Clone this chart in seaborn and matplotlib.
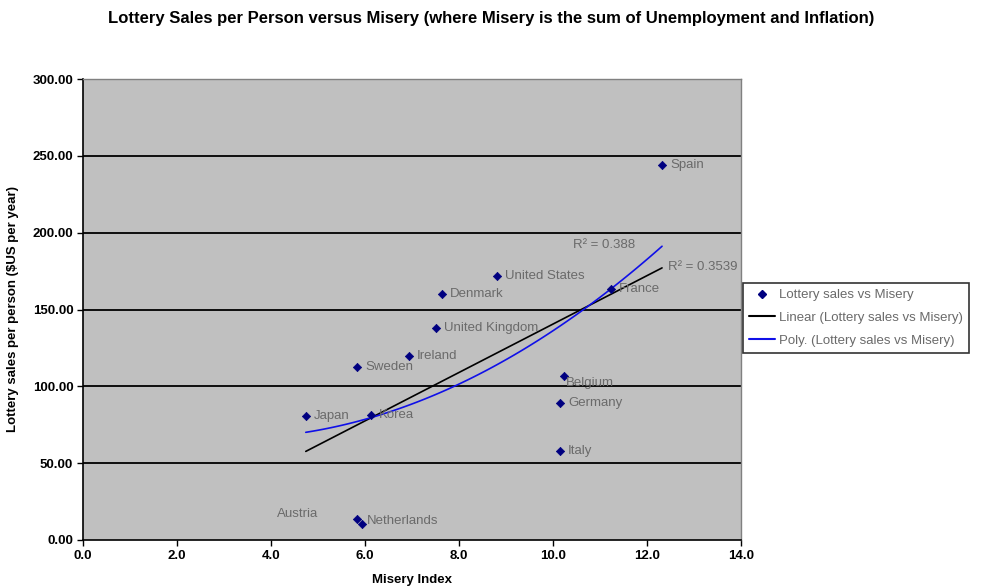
import matplotlib
matplotlib.use("Agg")
import matplotlib.pyplot as plt
import seaborn as sns
import pandas as pd
from matplotlib.lines import Line2D

countries = ["Spain", "France", "United States", "Denmark", "United Kingdom", "Ireland",
             "Sweden", "Belgium", "Germany", "Japan", "Korea", "Italy", "Austria", "Netherlands"]
misery = [12.32, 11.23, 8.81, 7.64, 7.51, 6.94, 5.83, 10.23, 10.15, 4.74, 6.13, 10.15, 5.83, 5.94]
sales = [244.0, 163.3, 171.8, 160.0, 137.9, 119.7, 112.6, 106.7, 89.1, 80.7, 81.3, 57.9, 13.7, 10.4]

title = "Lottery Sales per Person versus Misery (where Misery is the sum of Unemployment and Inflation)"
xlabel = "Misery Index"
ylabel = "Lottery sales per person ($US per year)"
legend_labels = ["Lottery sales vs Misery", "Linear (Lottery sales vs Misery)",
                 "Poly. (Lottery sales vs Misery)"]
r2_poly = "R² = 0.388"
r2_lin = "R² = 0.3539"

df = pd.DataFrame({"country": countries, "misery": misery, "sales": sales})

sns.set_style("white")
plt.rcParams["font.family"] = ["Liberation Sans", "DejaVu Sans"]
plt.rcParams["text.color"] = "black"
plt.rcParams["axes.labelcolor"] = "black"
plt.rcParams["xtick.color"] = "black"
plt.rcParams["ytick.color"] = "black"

W, H = 983, 586
fig = plt.figure(figsize=(W / 100, H / 100), dpi=100)
ax = fig.add_axes([83 / W, 1 - 540 / H, (741 - 83) / W, (540 - 79) / H])
ax.set_facecolor("#C0C0C0")

ax.set_xlim(0, 14)
ax.set_ylim(0, 300)
ax.set_xticks([0, 2, 4, 6, 8, 10, 12, 14])
ax.set_yticks([0, 50, 100, 150, 200, 250, 300])
ax.set_xticklabels([f"{v:.1f}" for v in ax.get_xticks()], fontsize=9.5, fontweight="bold")
ax.set_yticklabels([f"{v:.2f}" for v in ax.get_yticks()], fontsize=9.5, fontweight="bold")
for y in [50, 100, 150, 200, 250]:
    ax.axhline(y, color="black", lw=1.3, zorder=1)

sns.regplot(data=df, x="misery", y="sales", ax=ax, scatter=False, ci=None, order=1,
            truncate=True, line_kws={"color": "black", "lw": 1.2, "zorder": 3})
sns.regplot(data=df, x="misery", y="sales", ax=ax, scatter=False, ci=None, order=2,
            truncate=True, line_kws={"color": "#1010E8", "lw": 1.2, "zorder": 3})
sns.scatterplot(data=df, x="misery", y="sales", ax=ax, marker="D", s=18,
                color="#000080", edgecolor="#000080", linewidth=0.5, zorder=4, legend=False)

label_col = "#6a6a6a"
offsets = {"Belgium": (2, -7, "left"), "Austria": (-39, 5, "right"),
           "Netherlands": (5, 3, "left")}
for c, xv, yv in zip(countries, misery, sales):
    dx, dy, ha = offsets.get(c, (8, 0, "left"))
    ax.annotate(c, (xv, yv), xytext=(dx, dy), textcoords="offset pixels",
                ha=ha, va="center", fontsize=9.5, color=label_col, zorder=5)

ax.annotate(r2_poly, xy=((573 - 83) / 47, (540 - 245) / 1.537), fontsize=9.5,
            color=label_col, va="center", ha="left")
ax.annotate(r2_lin, xy=((668 - 83) / 47, (540 - 267) / 1.537), fontsize=9.5,
            color=label_col, va="center", ha="left")

ax.set_xlabel(xlabel, fontsize=9.5, fontweight="bold", labelpad=9, color="black")
ax.set_ylabel(ylabel, fontsize=9.5, fontweight="bold", labelpad=10, color="black")
ax.tick_params(axis="both", direction="out", length=4, width=1, color="black",
               labelcolor="black", left=True, bottom=True, pad=3)
for s in ["left", "bottom"]:
    ax.spines[s].set_color("black")
    ax.spines[s].set_linewidth(1.2)
for s in ["top", "right"]:
    ax.spines[s].set_color("#808080")
    ax.spines[s].set_linewidth(1)

fig.text(0.5, 1 - 18 / H, title, ha="center", va="center", fontsize=12,
         fontweight="bold", color="black")

handles = [Line2D([], [], marker="D", color="#000080", ls="none", markersize=4),
           Line2D([], [], color="black", lw=1.5),
           Line2D([], [], color="#1010E8", lw=1.5)]
leg = fig.legend(handles, legend_labels, loc="upper left",
                 bbox_to_anchor=(743 / W, 1 - 283 / H), fontsize=9.5, frameon=True,
                 fancybox=False, edgecolor="black", borderpad=0.45, handlelength=2.0,
                 handletextpad=0.3, labelspacing=0.8, borderaxespad=0)
for t in leg.get_texts():
    t.set_color(label_col)
leg.get_frame().set_linewidth(1.2)

fig.savefig("out.png", dpi=100)
